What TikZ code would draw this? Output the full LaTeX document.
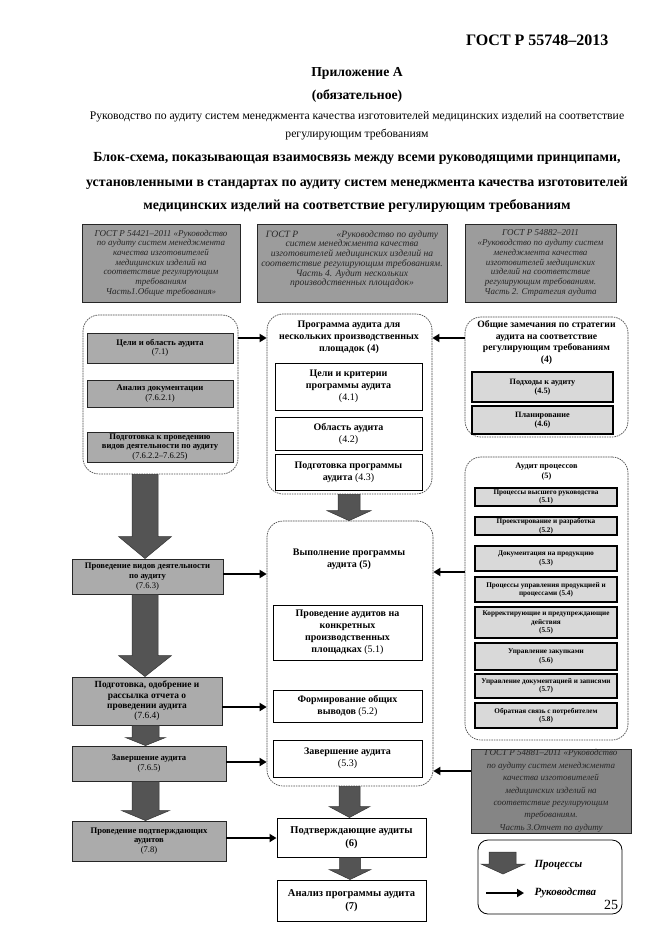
\documentclass[tikz,border=0pt]{standalone}
\usepackage{fontspec}
\setmainfont{Liberation Serif}
\usetikzlibrary{arrows.meta,calc}
\newcommand\fz[2]{\fontsize{#1}{#2}\selectfont}
% block arrow: from node, to node, centre x, shaft half width, head half width, head length
\newcommand\barrow[6]{%
  \filldraw[bfill] let \p1=(#1.south), \p2=(#2.north) in
    (#3pt-#4pt,\y1) -- (#3pt+#4pt,\y1) -- (#3pt+#4pt,\y2+#6pt) -- (#3pt+#5pt,\y2+#6pt)
    -- (#3pt,\y2) -- (#3pt-#5pt,\y2+#6pt) -- (#3pt-#4pt,\y2+#6pt) -- cycle;}
\tikzset{
  sz/.style 2 args={minimum width=#1pt, minimum height=#2pt},
  gtop/.style={draw=black!85, line width=0.9pt, fill=black!39, inner sep=1pt, align=center,
    font=\fz{9}{9.7}\itshape, text=black!85},
  gin/.style={draw=black!85, line width=0.9pt, fill=black!33, inner sep=1pt, align=center,
    font=\fz{8.6}{9.6}\bfseries},
  cont/.style={draw=black!70, line width=0.7pt, dash pattern=on 1.6pt off 0.9pt, rounded corners=16pt},
  wbox/.style={draw=black, line width=1pt, fill=white, inner sep=1pt, align=center,
    font=\fz{10}{12}\bfseries},
  pbox/.style={draw=black, line width=1.2pt, fill=black!15, inner sep=0.5pt, align=center,
    font=\fz{7.2}{8.4}\bfseries},
  arr/.style={line width=2.3pt, -{Triangle[length=7pt,width=8pt]}},
  bfill/.style={fill=black!67, draw=black!80, line width=0.5pt},
  ttl/.style={align=center, font=\fz{10}{12}\bfseries},
}
\begin{document}
\begin{tikzpicture}[x=1pt,y=-1pt]
\useasboundingbox (0,0) rectangle (661,936);
\fill[white] (0,0) rectangle (661,936);

% ---------- header ----------
\node[font=\fz{16}{19}\bfseries, anchor=east] (hdr) at (612,40) {ГОСТ Р 55748–2013};
\node[font=\fz{13.7}{16}\bfseries] (app) at (357,73) {Приложение А};
\node[font=\fz{13.7}{16}\bfseries] (obl) at (357,96) {(обязательное)};
\node[font=\fz{11.7}{14}] (sub1) at (357,117) {Руководство по аудиту систем менеджмента качества изготовителей медицинских изделий на соответствие};
\node[font=\fz{11.7}{14}] (sub2) at (357,135) {регулирующим требованиям};
\node[font=\fz{13.9}{16}\bfseries] (t1) at (357,158) {Блок-схема, показывающая взаимосвязь между всеми руководящими принципами,};
\node[font=\fz{13.9}{16}\bfseries] (t2) at (357,183) {установленными в стандартах по аудиту систем менеджмента качества изготовителей};
\node[font=\fz{13.9}{16}\bfseries] (t3) at (357,206) {медицинских изделий на соответствие регулирующим требованиям};

% ---------- top standards ----------
\node[gtop, sz={158}{78}] (g1) at (161,263) {ГОСТ Р 54421–2011 «Руководство\\по аудиту систем менеджмента\\качества изготовителей\\медицинских изделий на\\соответствие регулирующим\\требованиям\\Часть1.Общие требования»};
\node[gtop, font=\fz{9.6}{9.7}\itshape, sz={190}{78}] (g2) at (352,263) {ГОСТ Р\hspace{4em}«Руководство по аудиту\\систем менеджмента качества\\изготовителей медицинских изделий на\\соответствие регулирующим требованиям.\\Часть 4. Аудит нескольких\\производственных площадок»\\\mbox{}};
\node[gtop, sz={151}{78}] (g3) at (540.5,263) {ГОСТ Р 54882–2011\\«Руководство по аудиту систем\\менеджмента качества\\изготовителей медицинских\\изделий на соответствие\\регулирующим требованиям.\\Часть 2. Стратегия аудита};

% ---------- left container ----------
\node[cont, sz={155}{159}] (L) at (160.5,394.5) {};
\node[gin, sz={146}{30}] (L1) at (160,348) {Цели и область аудита\\{\mdseries (7.1)}};
\node[gin, sz={146}{27}] (L2) at (160,393.5) {Анализ документации\\{\mdseries (7.6.2.1)}};
\node[gin, sz={146}{30}] (L3) at (160,447) {Подготовка к проведению\\видов деятельности по аудиту\\{\mdseries (7.6.2.2–7.6.25)}};

% ---------- centre container 1 ----------
\node[cont, sz={165}{180}] (C1) at (349.5,404) {};
\node[ttl] (C1t) at (349,337) {Программа аудита для\\нескольких производственных\\площадок (4)};
\node[wbox, sz={147}{47}] (C1a) at (348.5,386.5) {Цели и критерии\\программы аудита\\{\mdseries (4.1)}};
\node[wbox, sz={147}{33}] (C1b) at (348.5,433.5) {Область аудита\\{\mdseries (4.2)}};
\node[wbox, sz={147}{36}] (C1c) at (348.5,472) {Подготовка программы\\аудита {\mdseries (4.3)}};

% ---------- right container 1 ----------
\node[cont, sz={163}{120}] (R1) at (546.5,377) {};
\node[ttl, font=\fz{9.7}{11.7}\bfseries] (R1t) at (546.5,342.5) {Общие замечания по стратегии\\аудита на соответствие\\регулирующим требованиям\\(4)};
\node[pbox, font=\fz{8.2}{9.6}\bfseries, sz={141}{30}] (R1a) at (542.5,387) {Подходы к аудиту\\(4.5)};
\node[pbox, font=\fz{8.2}{9.6}\bfseries, sz={141}{28}] (R1b) at (542.5,420) {Планирование\\(4.6)};

% ---------- right container 2 (process audit) ----------
\node[cont, sz={163}{283}] (R2) at (546.5,598.5) {};
\node[ttl, font=\fz{8.3}{9.5}\bfseries] (R2t) at (546.5,471.5) {Аудит процессов\\(5)};
\node[pbox, sz={142}{18}] (p1) at (546,497) {Процессы высшего руководства\\(5.1)};
\node[pbox, sz={142}{18}] (p2) at (546,526) {Проектирование и разработка\\(5.2)};
\node[pbox, sz={142}{25}] (p3) at (546,558.5) {Документация на продукцию\\(5.3)};
\node[pbox, sz={142}{25}] (p4) at (546,589.5) {Процессы управления продукцией и\\процессами (5.4)};
\node[pbox, sz={142}{31}] (p5) at (546,622.5) {Корректирующие и предупреждающие\\действия\\(5.5)};
\node[pbox, sz={142}{27}] (p6) at (546,656.5) {Управление закупками\\(5.6)};
\node[pbox, sz={142}{24}] (p7) at (546,686) {Управление документацией и записями\\(5.7)};
\node[pbox, sz={142}{25}] (p8) at (546,715.5) {Обратная связь с потребителем\\(5.8)};

% ---------- centre container 2 ----------
\node[cont, sz={166}{265}] (C2) at (350,653.5) {};
\node[ttl] (C2t) at (349,559) {Выполнение программы\\аудита (5)};
\node[wbox, sz={149}{55}] (C2a) at (347.5,632.5) {Проведение аудитов на\\конкретных\\производственных\\площадках {\mdseries (5.1)}};
\node[wbox, sz={149}{32}] (C2b) at (347.5,706) {Формирование общих\\выводов {\mdseries (5.2)}};
\node[wbox, sz={149}{37}] (C2c) at (347.5,758.5) {Завершение аудита\\{\mdseries (5.3)}};

% ---------- centre bottom ----------
\node[wbox, font=\fz{10.5}{12.5}\bfseries, sz={149}{39}] (P6) at (351.5,837.5) {Подтверждающие аудиты\\(6)};
\node[wbox, font=\fz{10.5}{12.5}\bfseries, sz={149}{41}] (P7) at (351.5,900.5) {Анализ программы аудита\\(7)};

% ---------- left column ----------
\node[gin, sz={151}{35}] (M1) at (147.5,576.5) {Проведение видов деятельности\\по аудиту\\{\mdseries (7.6.3)}};
\node[gin, font=\fz{9.4}{10.3}\bfseries, sz={150}{48}] (M2) at (147,701) {Подготовка, одобрение и\\рассылка отчета о\\проведении аудита\\{\mdseries (7.6.4)}};
\node[gin, sz={154}{35}] (M3) at (149,763.5) {Завершение аудита\\{\mdseries (7.6.5)}};
\node[gin, sz={154}{40}] (M4) at (149,841) {Проведение подтверждающих\\аудитов\\{\mdseries (7.8)}};

% ---------- bottom right standard ----------
\node[gtop, fill=black!48, sz={160}{84}] (g4) at (551,791) {};
\node[align=center, font=\fz{9}{12.4}\itshape, text=black!85] (g4t) at (551,791) {ГОСТ Р 54881–2011 «Руководство\\по аудиту систем менеджмента\\качества изготовителей\\медицинских изделий на\\соответствие регулирующим\\требованиям.\\Часть 3.Отчет по аудиту};

% ---------- block arrows (processes) ----------
\barrow{L}{M1}{145}{13}{26.5}{22}
\barrow{M1}{M2}{145}{13}{26.5}{21}
\barrow{M2}{M3}{145.5}{13.5}{20}{8}
\barrow{M3}{M4}{145.5}{13.5}{24}{10}
\barrow{C1}{C2}{349}{11}{22}{10}
\barrow{C2}{P6}{349.5}{10.5}{20.5}{11}
\barrow{P6}{P7}{350}{10.5}{21}{10}

% ---------- guidance arrows ----------
\coordinate (yA) at (0,338);
\coordinate (yB) at (0,574);
\coordinate (yC) at (0,572);
\coordinate (yD) at (0,707);
\coordinate (yE) at (0,762);
\coordinate (yF) at (0,771);
\coordinate (yG) at (0,838);
\draw[arr] (L.east |- yA) -- (C1.west |- yA);
\draw[arr] (R1.west |- yA) -- (C1.east |- yA);
\draw[arr] (M1.east |- yB) -- (C2.west |- yB);
\draw[arr] (R2.west |- yC) -- (C2.east |- yC);
\draw[arr] (M2.east |- yD) -- (C2.west |- yD);
\draw[arr] (M3.east |- yE) -- (C2.west |- yE);
\draw[arr] (g4.west |- yF) -- (C2.east |- yF);
\draw[arr] (M4.east |- yG) -- (P6.west |- yG);

% ---------- legend ----------
\node[draw=black, line width=0.8pt, rounded corners=10pt, sz={144}{74}] (lg) at (550,877) {};
\filldraw[bfill] (489,852) -- (516,852) -- (516,864) -- (525,864) -- (503,874) -- (481,864) -- (489,864) -- cycle;
\node[anchor=west, font=\fz{11}{13}\bfseries\itshape] (lgp) at (531,865) {Процессы};
\coordinate (lgA) at (486,893);
\coordinate (lgB) at (524,893);
\draw[arr] (lgA) -- (lgB);
\node[anchor=west, font=\fz{11}{13}\bfseries\itshape] (lgr) at (531,893) {Руководства};
\node[font=\fz{14}{16}] (pg) at (611,905) {25};
\end{tikzpicture}
\end{document}
